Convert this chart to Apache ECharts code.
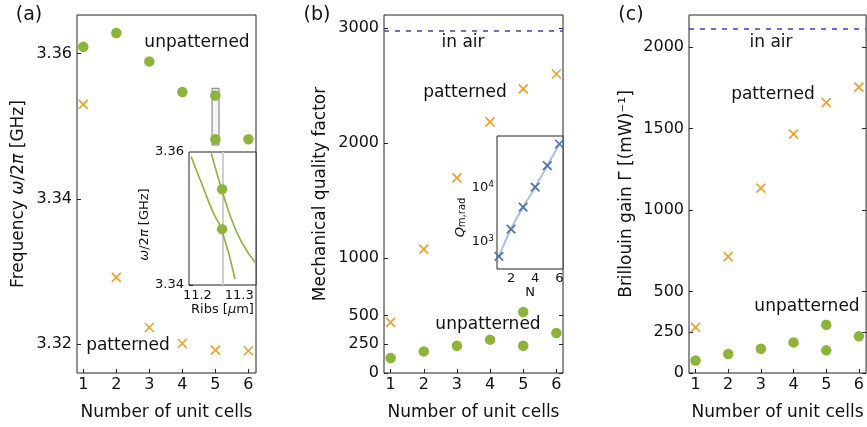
<!DOCTYPE html>
<html>
<head>
<meta charset="utf-8">
<script src="https://cdn.jsdelivr.net/npm/echarts@6/dist/echarts.min.js"></script>
<style>
  html, body { margin: 0; padding: 0; background: #fff; }
  #chart { width: 867px; height: 427px; }
</style>
</head>
<body>
<div id="chart"></div>
<script>
// number of unit cells (x = 5 has two unpatterned modes)
var cells = [1, 2, 3, 4, 5, 6];
var unpatCells = [1, 2, 3, 4, 5, 5, 6];

// (a) frequency [GHz]
var freqUnpat = [3.3609, 3.3628, 3.3589, 3.3547, 3.3542, 3.3482, 3.3482];
var freqPat = [3.3530, 3.3292, 3.3223, 3.3201, 3.3192, 3.3191];

// (b) mechanical quality factor
var qUnpat = [130, 188, 237, 290, 530, 237, 348];
var qPat = [440, 1078, 1696, 2183, 2470, 2600];
var qAir = 2980;

// (c) Brillouin gain
var gainUnpat = [77, 117, 149, 188, 296, 139, 225];
var gainPat = [280, 715, 1135, 1466, 1660, 1755];
var gainAir = 2112;

// inset (a): two mode branches vs rib width
var ribsLow = [11.185, 11.213, 11.237, 11.258, 11.290];
var freqLow = [3.3593, 3.3548, 3.3510, 3.3483, 3.3409];
var ribsHigh = [11.233, 11.258, 11.282, 11.307, 11.339];
var freqHigh = [3.3598, 3.3544, 3.3498, 3.3463, 3.3433];
var ribsChosen = 11.259;
var freqChosen = [3.3544, 3.3484];

// inset (b): radiation-limited Q
var insetN = [1, 2, 3, 4, 5, 6];
var qRad = [525, 1710, 4400, 10400, 26300, 67000];

// tick labels
var ticksA = [3.32, 3.34, 3.36];
var ticksB = [0, 250, 500, 1000, 2000, 3000];
var ticksC = [0, 250, 500, 1000, 1500, 2000];

var GREEN = '#8db33a';
var ORANGE = '#e9a22f';
var BLUE = '#3b3bd0';
var FONT = 'DejaVu Sans';
var CROSS = 'path://M0,0L10,10M10,0L0,10';

function pairs(xs, ys) {
  return ys.map(function (y, i) { return [xs[i], y]; });
}
function plain(v) { return String(v); }

var chart = echarts.init(document.getElementById('chart'));

var tick = { show: true, inside: true, length: 4, lineStyle: { color: '#222', width: 1 } };
var lbl = { color: '#111', fontFamily: FONT, fontSize: 16 };
var nameStyle = { color: '#111', fontFamily: FONT, fontSize: 17 };

function mainX(grid, min, max) {
  return {
    type: 'value', gridIndex: grid, min: min, max: max,
    axisLine: { show: false }, splitLine: { show: false },
    axisTick: Object.assign({ customValues: cells }, tick),
    axisLabel: Object.assign({ customValues: cells, margin: 4, formatter: plain }, lbl),
    name: 'Number of unit cells', nameLocation: 'middle', nameGap: 31,
    nameTextStyle: nameStyle
  };
}

function mainY(grid, min, max, ticks, name, gap, rich, fmt) {
  return {
    type: 'value', gridIndex: grid, min: min, max: max,
    axisLine: { show: false }, splitLine: { show: false },
    axisTick: Object.assign({ customValues: ticks }, tick),
    axisLabel: Object.assign({ customValues: ticks, margin: 5, formatter: fmt || plain }, lbl),
    name: name, nameLocation: 'middle', nameGap: gap,
    nameTextStyle: Object.assign({ rich: rich || {} }, nameStyle)
  };
}

function mirrorY(grid, min, max, ticks) {
  return {
    type: 'value', gridIndex: grid, min: min, max: max, position: 'right',
    axisLine: { show: false }, splitLine: { show: false },
    axisTick: Object.assign({ customValues: ticks }, tick),
    axisLabel: { show: false }
  };
}

function dots(name, x, y, xs, ys) {
  return {
    name: name, type: 'scatter', xAxisIndex: x, yAxisIndex: y,
    symbol: 'circle', symbolSize: 10.5,
    itemStyle: { color: GREEN, opacity: 1 },
    data: pairs(xs, ys), z: 3
  };
}

function crosses(name, x, y, xs, ys, color, size) {
  return {
    name: name, type: 'scatter', xAxisIndex: x, yAxisIndex: y,
    symbol: CROSS, symbolSize: size || 9,
    itemStyle: { color: color || ORANGE, borderColor: color || ORANGE, borderWidth: 1.7, opacity: 1 },
    data: pairs(xs, ys), z: 3
  };
}

function airLine(value) {
  return {
    silent: true, symbol: 'none', label: { show: false },
    lineStyle: { color: BLUE, type: [5, 6], width: 1.6 },
    data: [{ yAxis: value }]
  };
}

function txt(x, y, s, size) {
  return {
    type: 'text', x: x, y: y, z: 10,
    style: { text: s, fill: '#111', fontFamily: FONT, fontSize: size || 17, align: 'center', verticalAlign: 'middle' }
  };
}

var italic = { i: { fontStyle: 'italic', fontFamily: FONT, fontSize: 17, color: '#111' } };
var italicSmall = { i: { fontStyle: 'italic', fontFamily: FONT, fontSize: 13, color: '#111' } };

var frame = { show: true, borderColor: '#222', borderWidth: 1, backgroundColor: '#fff' };

chart.setOption({
  animation: false,
  backgroundColor: '#fff',
  grid: [
    Object.assign({ left: 77, top: 15, width: 179, height: 358 }, frame),
    Object.assign({ left: 384, top: 15, width: 179, height: 358 }, frame),
    Object.assign({ left: 689, top: 15, width: 179, height: 358 }, frame),
    Object.assign({ left: 189, top: 152, width: 67, height: 133, z: 5 }, frame),
    Object.assign({ left: 497, top: 136, width: 66, height: 133, z: 5 }, frame)
  ],
  xAxis: [
    mainX(0, 0.81, 6.23),
    mainX(1, 0.8, 6.2),
    mainX(2, 0.8, 6.22),
    {
      type: 'value', gridIndex: 3, min: 11.18, max: 11.34,
      axisLine: { show: false }, splitLine: { show: false },
      axisTick: Object.assign({ customValues: [11.2, 11.3] }, tick),
      axisLabel: { customValues: [11.2, 11.3], margin: 4, color: '#111', fontFamily: FONT, fontSize: 13,
        formatter: function (v) { return v.toFixed(1); } },
      name: 'Ribs [{i|μ}m]', nameLocation: 'middle', nameGap: 17,
      nameTextStyle: { color: '#111', fontFamily: FONT, fontSize: 13, rich: italicSmall }
    },
    {
      type: 'value', gridIndex: 4, min: 0.84, max: 6.3,
      axisLine: { show: false }, splitLine: { show: false },
      axisTick: Object.assign({ customValues: [2, 4, 6] }, tick),
      axisLabel: { customValues: [2, 4, 6], margin: 3, color: '#111', fontFamily: FONT, fontSize: 13 },
      name: 'N', nameLocation: 'middle', nameGap: 14,
      nameTextStyle: { color: '#111', fontFamily: FONT, fontSize: 13 }
    }
  ],
  yAxis: [
    mainY(0, 3.31604, 3.36528, ticksA, 'Frequency {i|ω}/2{i|π} [GHz]', 50, italic,
      function (v) { return v.toFixed(2); }),
    mainY(1, 0, 3113, ticksB, 'Mechanical quality factor', 55),
    mainY(2, 0, 2198, ticksC, 'Brillouin gain Γ [(mW)⁻¹]', 54),
    {
      type: 'value', gridIndex: 3, min: 3.34, max: 3.36,
      axisLine: { show: false }, splitLine: { show: false },
      axisTick: Object.assign({ customValues: [3.34, 3.35, 3.36] }, tick),
      axisLabel: { customValues: [3.34, 3.36], margin: 5, color: '#111', fontFamily: FONT, fontSize: 13,
        formatter: function (v) { return v.toFixed(2); } },
      name: '{i|ω}/2{i|π} [GHz]', nameLocation: 'middle', nameGap: 4,
      nameTextStyle: { color: '#111', fontFamily: FONT, fontSize: 13, rich: italicSmall, padding: [0, 12, 0, 0] }
    },
    {
      type: 'log', logBase: 10, gridIndex: 4, min: 305, max: 94600,
      axisLine: { show: false }, splitLine: { show: false },
      axisTick: Object.assign({ customValues: [1000, 10000] }, tick),
      axisLabel: {
        customValues: [1000, 10000], margin: 3, color: '#111', fontFamily: FONT, fontSize: 13,
        formatter: function (v) { return '{b|10}{e|' + Math.round(Math.log10(v)) + '}'; },
        rich: {
          b: { fontFamily: FONT, fontSize: 13, color: '#111' },
          e: { fontFamily: FONT, fontSize: 9, color: '#111', verticalAlign: 'top', padding: [0, 0, 6, 0] }
        }
      },
      name: '{q|Q}{s|m,rad}', nameLocation: 'middle', nameGap: 24,
      nameTextStyle: {
        color: '#111', fontFamily: FONT, fontSize: 13, padding: [0, 30, 0, 0],
        rich: {
          q: { fontStyle: 'italic', fontFamily: FONT, fontSize: 13, color: '#111' },
          s: { fontFamily: FONT, fontSize: 10, color: '#111', verticalAlign: 'bottom', padding: [5, 0, 0, 0] }
        }
      }
    },
    mirrorY(1, 0, 3113, ticksB),
    mirrorY(2, 0, 2198, ticksC)
  ],
  graphic: [
    txt(29, 15, '(a)', 19), txt(317, 15, '(b)', 19), txt(631, 15, '(c)', 19),
    txt(197, 43, 'unpatterned'), txt(128, 346, 'patterned'),
    txt(463, 43, 'in air'), txt(465, 93, 'patterned'), txt(488, 325, 'unpatterned'),
    txt(771, 43, 'in air'), txt(773, 95, 'patterned'), txt(807, 307, 'unpatterned')
  ],
  series: [
    // (a)
    Object.assign(dots('a-unpatterned', 0, 0, unpatCells, freqUnpat), {
      markArea: {
        silent: true,
        itemStyle: { color: 'rgba(0,0,0,0.04)', borderColor: '#777', borderWidth: 1 },
        data: [[{ xAxis: 4.9, yAxis: 3.3552 }, { xAxis: 5.11, yAxis: 3.3474 }]]
      }
    }),
    crosses('a-patterned', 0, 0, cells, freqPat),
    // (b)
    Object.assign(dots('b-unpatterned', 1, 1, unpatCells, qUnpat), { markLine: airLine(qAir) }),
    crosses('b-patterned', 1, 1, cells, qPat),
    // (c)
    Object.assign(dots('c-unpatterned', 2, 2, unpatCells, gainUnpat), { markLine: airLine(gainAir) }),
    crosses('c-patterned', 2, 2, cells, gainPat),
    // inset (a)
    {
      type: 'line', xAxisIndex: 3, yAxisIndex: 3, smooth: true, showSymbol: false, z: 6,
      lineStyle: { color: GREEN, width: 1.6 }, data: pairs(ribsLow, freqLow),
      markLine: {
        silent: true, symbol: 'none', label: { show: false },
        lineStyle: { color: '#cfcfcf', type: 'solid', width: 2 },
        data: [{ xAxis: ribsChosen }]
      }
    },
    {
      type: 'line', xAxisIndex: 3, yAxisIndex: 3, smooth: true, showSymbol: false, z: 6,
      lineStyle: { color: GREEN, width: 1.6 }, data: pairs(ribsHigh, freqHigh)
    },
    {
      type: 'scatter', xAxisIndex: 3, yAxisIndex: 3, symbolSize: 10.5, z: 7,
      itemStyle: { color: GREEN, opacity: 1 },
      data: freqChosen.map(function (f) { return [ribsChosen, f]; })
    },
    // inset (b)
    {
      type: 'line', xAxisIndex: 4, yAxisIndex: 4, smooth: true, showSymbol: false, z: 6,
      lineStyle: { color: '#a9c0e3', width: 2 }, data: pairs(insetN, qRad)
    },
    Object.assign(crosses('b-inset', 4, 4, insetN, qRad, '#4c72b0', 8.5), { z: 7 })
  ]
});
</script>
</body>
</html>
